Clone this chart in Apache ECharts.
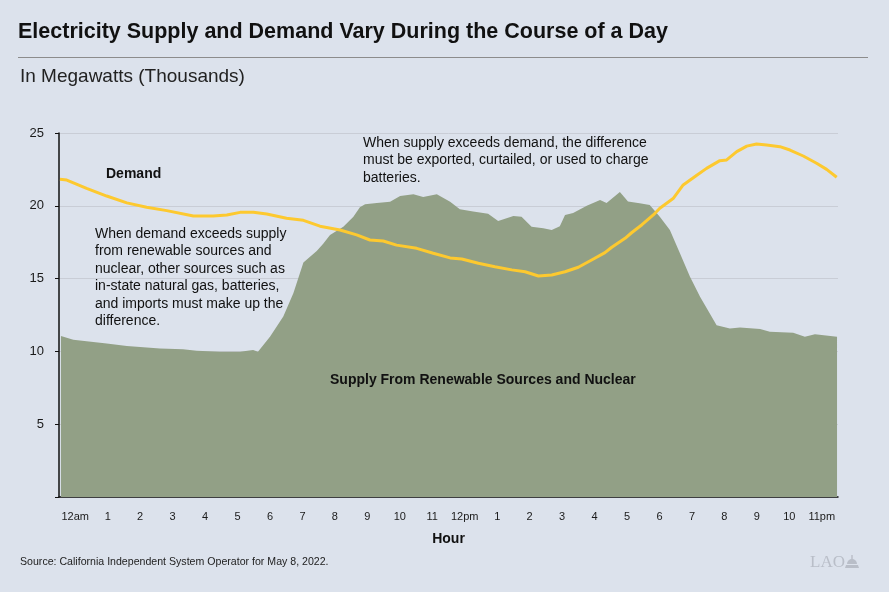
<!DOCTYPE html>
<html>
<head>
<meta charset="utf-8">
<script src="https://cdn.jsdelivr.net/npm/echarts@6/dist/echarts.min.js"></script>
<style>
html,body{margin:0;padding:0;background:#dce2ec;}
#chart{width:889px;height:592px;}
</style>
</head>
<body>
<div id="chart"></div>
<script>
const hourLabels = ['12am','1','2','3','4','5','6','7','8','9','10','11','12pm','1','2','3','4','5','6','7','8','9','10','11pm'];
const yTicks = [5, 10, 15, 20, 25];

const supplyHours = [0.06,0.44,0.85,1.47,2.09,2.50,3.11,3.82,4.24,4.96,5.58,5.98,6.13,6.50,6.91,7.22,7.53,7.94,8.14,8.35,8.76,9.07,9.27,9.43,9.79,10.20,10.51,10.92,11.22,11.64,12.05,12.35,12.76,13.22,13.53,14.00,14.25,14.56,14.92,15.18,15.43,15.59,15.84,16.26,16.67,16.87,17.28,17.53,17.89,18.20,18.51,18.82,19.13,19.44,19.75,20.05,20.26,20.67,20.98,21.60,21.90,22.62,22.98,23.29,23.97];
const supplyValues = [11.06,10.8,10.7,10.55,10.37,10.3,10.2,10.14,10.05,9.98,9.98,10.1,9.98,11.0,12.4,14.0,16.1,16.9,17.4,18.0,18.56,19.25,19.9,20.1,20.2,20.28,20.67,20.8,20.6,20.8,20.28,19.76,19.6,19.45,18.95,19.3,19.25,18.56,18.45,18.34,18.6,19.37,19.5,20.0,20.4,20.2,20.95,20.3,20.17,20.05,19.25,18.34,16.74,15.13,13.76,12.6,11.8,11.58,11.65,11.54,11.35,11.28,11.0,11.17,11.0];

const demandHours = [0.03,0.24,0.85,1.47,2.09,2.70,3.32,4.14,4.75,5.17,5.58,5.99,6.40,7.01,7.53,8.04,8.66,9.17,9.58,9.99,10.40,11.02,11.53,12.05,12.41,12.92,13.43,13.95,14.36,14.77,15.18,15.59,16.00,16.41,16.82,17.03,17.44,17.64,17.96,18.31,18.51,18.92,19.23,19.65,19.95,20.36,20.57,20.88,21.19,21.49,21.80,22.21,22.52,22.93,23.34,23.65,23.96];
const demandValues = [21.82,21.77,21.2,20.67,20.2,19.9,19.67,19.3,19.3,19.37,19.55,19.55,19.44,19.14,19.0,18.6,18.34,18.0,17.65,17.58,17.3,17.08,16.74,16.42,16.35,16.05,15.82,15.6,15.47,15.18,15.25,15.47,15.78,16.28,16.78,17.15,17.77,18.15,18.7,19.37,19.83,20.5,21.43,22.1,22.57,23.1,23.15,23.72,24.1,24.24,24.17,24.06,23.83,23.42,22.92,22.5,21.96];

const supplyData = supplyHours.map((h, i) => [h, supplyValues[i]]);
const demandData = demandHours.map((h, i) => [h, demandValues[i]]);

const chart = echarts.init(document.getElementById('chart'));
const txt = '#1a1a1a';
const font = '"Liberation Sans", Arial, Helvetica, sans-serif';

chart.setOption({
  backgroundColor: '#dce2ec',
  animation: false,
  textStyle: { fontFamily: font },
  grid: { left: 59, right: 51, top: 133, bottom: 95 },
  xAxis: [
    {
      type: 'category',
      data: hourLabels,
      boundaryGap: true,
      axisLine: { lineStyle: { color: '#111', width: 1.5 } },
      axisTick: { alignWithLabel: true, length: 5, lineStyle: { color: '#111' } },
      axisLabel: { color: txt, fontSize: 11, margin: 14, fontFamily: font, interval: 0 },
      splitLine: { show: false },
      name: 'Hour',
      nameLocation: 'middle',
      nameGap: 35,
      nameTextStyle: { fontWeight: 'bold', fontSize: 14, color: '#111', fontFamily: font }
    },
    {
      type: 'value',
      min: 0, max: 24,
      show: false
    }
  ],
  yAxis: {
    type: 'value',
    min: 0, max: 25, interval: 5,
    axisLine: { show: true, lineStyle: { color: '#111', width: 1.5 } },
    axisTick: { show: true, length: 4, lineStyle: { color: '#111' } },
    axisLabel: {
      color: txt, fontSize: 13, margin: 15, fontFamily: font,
      formatter: v => (yTicks.indexOf(v) >= 0 ? String(v) : '')
    },
    splitLine: { lineStyle: { color: '#c9cdd6', width: 1 } }
  },
  series: [
    {
      name: 'Supply',
      type: 'line',
      xAxisIndex: 1,
      data: supplyData,
      symbol: 'none',
      lineStyle: { width: 0, color: '#92a086' },
      areaStyle: { color: '#92a086', opacity: 1 },
      z: 2
    },
    {
      name: 'Demand',
      type: 'line',
      xAxisIndex: 1,
      data: demandData,
      symbol: 'none',
      lineStyle: { width: 3, color: '#fdc92f' },
      z: 3
    }
  ],
  graphic: [
    { type: 'text', z: 100, left: 18, top: 21, style: { text: 'Electricity Supply and Demand Vary During the Course of a Day', font: 'bold 21.5px ' + font, fill: '#111' } },
    { type: 'line', z: 100, shape: { x1: 18, y1: 57.5, x2: 868, y2: 57.5 }, style: { stroke: '#8c8c8c', lineWidth: 1 } },
    { type: 'text', z: 100, left: 20, top: 67, style: { text: 'In Megawatts (Thousands)', font: '19px ' + font, fill: '#222' } },
    { type: 'text', z: 100, left: 106, top: 167, style: { text: 'Demand', font: 'bold 14px ' + font, fill: '#111' } },
    { type: 'text', z: 100, left: 95, top: 225.5, style: { text: 'When demand exceeds supply\nfrom renewable sources and\nnuclear, other sources such as\nin-state natural gas, batteries,\nand imports must make up the\ndifference.', font: '14px ' + font, fill: '#111', lineHeight: 17.4 } },
    { type: 'text', z: 100, left: 363, top: 134.5, style: { text: 'When supply exceeds demand, the difference\nmust be exported, curtailed, or used to charge\nbatteries.', font: '14px ' + font, fill: '#111', lineHeight: 17.4 } },
    { type: 'text', z: 100, left: 330, top: 373, style: { text: 'Supply From Renewable Sources and Nuclear', font: 'bold 14px ' + font, fill: '#111' } },
    { type: 'text', z: 100, left: 20, top: 557, style: { text: 'Source: California Independent System Operator for May 8, 2022.', font: '10.6px ' + font, fill: '#222' } },
    { type: 'text', z: 100, left: 810, top: 554, style: { text: 'LAO', font: '17px "Liberation Serif", serif', fill: '#b9bec8' } },
    { type: 'polygon', z: 100, shape: { points: [[845,568],[859,568],[858,565],[846,565]] }, style: { fill: '#b9bec8' } },
    { type: 'sector', z: 100, shape: { cx: 852, cy: 564, r: 5, r0: 0, startAngle: Math.PI, endAngle: 2 * Math.PI }, style: { fill: '#b9bec8' } },
    { type: 'rect', z: 100, shape: { x: 851.3, y: 555, width: 1.4, height: 5 }, style: { fill: '#b9bec8' } }
  ]
});
</script>
</body>
</html>
